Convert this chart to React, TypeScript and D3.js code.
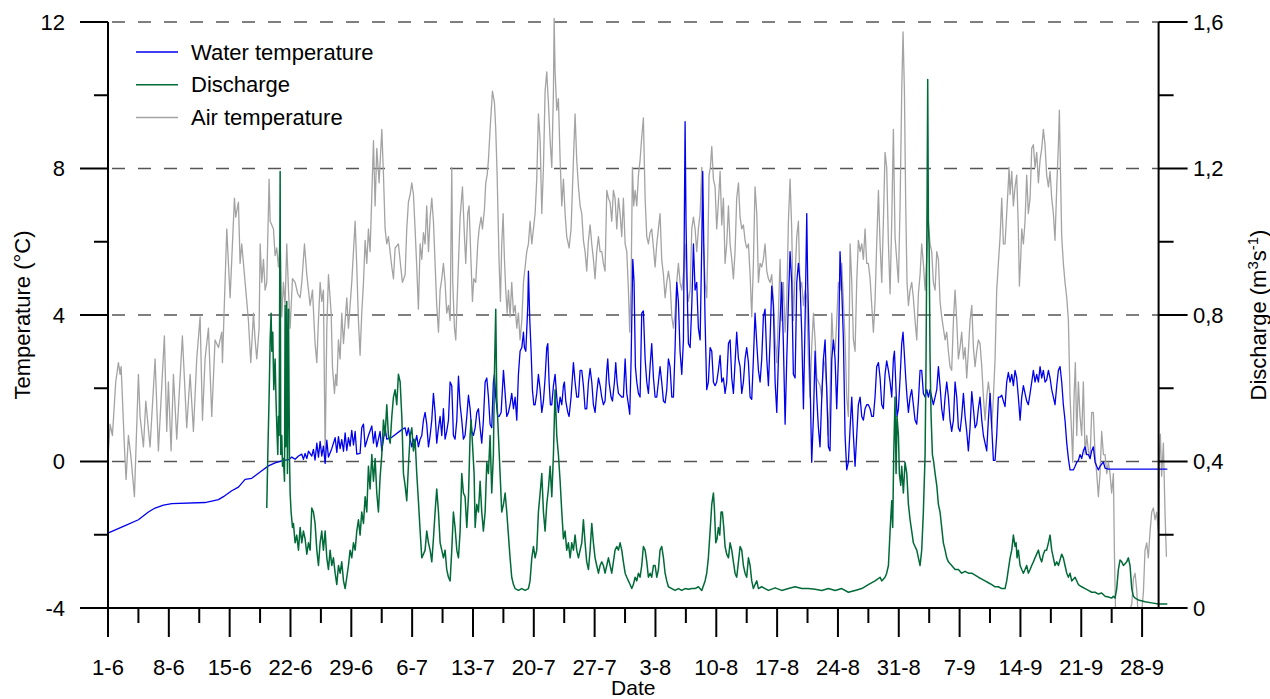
import React from 'react';
import * as d3 from 'd3';

// Date axis: day 0 = 1 June, weekly labels
const dayTickLabels = ['1-6', '8-6', '15-6', '22-6', '29-6', '6-7', '13-7', '20-7', '27-7', '3-8', '10-8', '17-8', '24-8', '31-8', '7-9', '14-9', '21-9', '28-9'];
const tempTicks = [-4, 0, 4, 8, 12];
const tempMinorTicks = [-2, 2, 6, 10];
const dischargeTicks = [0, 0.4, 0.8, 1.2, 1.6];
const dischargeMinorTicks = [0.2, 0.6, 1.0, 1.4];
const gridTemps = [0, 4, 8, 12];

// [day since 1-6, °C]
const airTemp: [number, number][] = [
  [0.05,0.29],[0.24,1.02],[0.51,0.71],[0.89,2.17],[1.2,2.7],[1.39,2.38],[1.51,2.59],[1.89,0.4],[2.08,-0.49],[2.35,0.71],[2.66,0.08],[3.04,-0.96],[3.5,2.38],[3.69,1.23],[4.08,0.4],[4.35,1.65],[4.84,0.4],[5.42,2.8],[5.8,0.29],[6.49,3.43],[6.76,0.82],[6.95,2.17],[7.26,0.29],[7.53,2.38],[7.91,0.61],[8.56,3.43],[9.06,0.92],[9.45,2.38],[9.83,0.82],[10.21,2.8],[10.6,3.95],[10.87,1.13],[11.17,2.8],[11.56,3.64],[11.94,1.23],[12.32,3.32],[12.71,3.11],[13.09,3.53],[13.17,2.7],[13.67,6.35],[14.05,4.47],[14.55,7.19],[14.7,6.67],[15.01,7.08],[15.2,5.41],[15.39,5.94],[15.78,4.89],[16.16,3.85],[16.43,2.7],[16.74,4.05],
  [16.93,3.32],[17.12,2.8],[17.39,3.64],[17.51,5.94],[17.7,4.89],[17.89,5.52],[18.08,4.68],[18.27,4.89],[18.54,7.71],[18.66,6.56],[18.85,6.46],[19.04,6.35],[19.23,5.62],[19.42,5.83],[19.61,5.31],[19.81,6.14],[20.0,3.95],[20.19,4.89],[20.38,4.26],[20.57,5.94],[20.77,4.68],[20.96,3.64],[21.23,4.99],[21.53,4.89],[21.84,4.58],[22.11,4.47],[22.3,4.89],[22.61,5.94],[22.88,5.1],[23.07,4.68],[23.26,4.26],[23.53,4.68],[23.83,3.22],[24.03,2.7],[24.22,3.85],[24.41,4.89],[24.6,4.37],[24.79,4.68],[24.99,0.19],[25.18,3.64],[25.37,5.1],[25.68,4.05],[25.83,2.59],[26.06,1.86],[26.21,2.38],[26.33,2.07],[26.52,3.32],[26.71,2.8],[26.9,4.05],[27.1,3.22],[27.29,3.85],[27.48,4.47],[27.67,3.64],[28.05,4.89],[28.44,6.56],[28.63,5.31],[28.82,3.85],[29.01,2.9],[29.2,4.05],[29.4,4.89],[29.59,6.04],[29.78,5.41],[29.97,6.35],[30.16,5.73],[30.55,8.76],[30.74,6.98],[30.93,8.55],[31.2,7.61],[31.51,9.07],[31.7,7.82],[31.89,6.35],[32.08,5.94],[32.27,6.14],[32.66,5.31],[32.85,4.99],[33.04,5.83],[33.42,5.94],[33.69,5.31],[33.88,4.89],
  [34.19,5.1],[34.38,6.35],[34.57,7.08],[34.77,7.29],[34.96,7.61],[35.15,7.29],[35.34,6.35],[35.53,5.31],[35.72,4.16],[35.92,5.94],[36.11,5.52],[36.3,6.25],[36.49,5.94],[36.68,6.98],[36.88,5.73],[37.07,6.67],[37.26,7.19],[37.45,6.56],[37.64,5.41],[37.83,4.26],[38.03,3.53],[38.22,4.68],[38.41,4.99],[38.6,5.41],[38.79,4.89],[38.98,4.05],[39.18,4.26],[39.37,3.85],[39.56,8.03],[39.67,4.89],[39.87,3.64],[40.02,3.32],[40.25,4.89],[40.52,6.67],[40.79,7.5],[41.02,6.14],[41.17,5.41],[41.4,6.77],[41.55,6.98],[41.78,5.41],[41.94,4.37],[42.09,4.99],[42.32,4.89],[42.55,5.94],[42.71,6.35],[42.94,6.67],[43.09,6.35],[43.32,6.88],[43.47,7.61],[43.63,7.82],[43.78,8.23],[43.97,9.07],[44.24,10.11],[44.47,9.8],[44.62,9.07],[44.78,7.82],[45.01,5.41],[45.16,4.37],[45.31,5.94],[45.47,6.77],[45.62,5.52],[45.77,4.68],[45.93,4.05],[46.08,4.68],[46.27,3.95],[46.46,4.89],[46.66,4.05],[46.85,4.26],[47.04,3.64],[47.23,4.05],[47.42,3.32],[47.62,3.85],[47.81,4.89],[48.0,5.31],[48.19,5.73],[48.38,5.94],[48.57,6.56],[48.77,5.94],[48.96,6.35],[49.15,6.77],[49.34,7.71],[49.53,9.49],[49.73,8.76],[49.92,6.77],[50.11,8.03],[50.3,10.11],[50.49,10.64],[50.68,9.8],[50.88,8.76],[51.07,8.03],[51.26,10.11],[51.34,12.1],
  [51.45,10.64],[51.64,9.59],[51.83,9.91],[52.03,8.23],[52.22,6.98],[52.41,7.71],[52.6,6.77],[52.79,6.14],[53.06,5.83],[53.29,6.35],[53.56,8.23],[53.75,9.49],[53.94,8.23],[54.14,7.5],[54.33,6.98],[54.52,6.77],[54.71,6.04],[54.9,5.73],[55.09,5.2],[55.29,6.04],[55.48,6.46],[55.67,5.94],[55.86,5.52],[56.05,4.99],[56.24,5.73],[56.44,6.14],[56.63,5.73],[56.82,5.73],[57.01,5.41],[57.2,5.2],[57.4,7.4],[57.59,7.19],[57.78,7.08],[57.97,6.56],[58.16,7.4],[58.35,7.19],[58.55,6.35],[58.74,7.19],[58.93,6.77],[59.12,6.14],[59.31,7.19],[59.51,5.94],[59.7,5.73],[59.89,4.68],[60.04,3.53],[60.2,4.89],[60.35,8.03],[60.5,6.98],[60.66,7.4],[60.85,6.98],[61.04,7.82],[61.23,8.23],[61.42,8.86],[61.61,9.38],[61.81,7.19],[62.0,6.14],[62.19,5.94],[62.38,6.25],[62.57,6.35],[62.77,5.83],[62.96,5.31],[63.15,5.94],[63.34,6.35],[63.53,6.77],[63.72,5.52],[63.92,5.1],[64.11,4.47],[64.3,4.89],[64.49,5.2],[64.68,4.89],[64.88,3.95],[65.07,3.64],[65.26,4.05],[65.45,4.89],[65.64,5.41],[65.83,4.89],[66.03,4.68],[66.22,5.1],[66.41,5.94],[66.6,4.89],[66.79,4.37],[66.99,4.68],[67.18,6.35],[67.37,6.67],[67.56,6.35],[67.75,5.73],[67.94,6.35],[68.14,6.77],[68.33,8.03],[68.52,5.94],[68.71,4.89],
  [68.9,4.47],[69.02,5.73],[69.17,7.82],[69.32,8.03],[69.48,8.6],[69.67,7.71],[69.86,7.5],[70.05,6.35],[70.24,7.08],[70.44,7.92],[70.63,6.46],[70.82,7.19],[71.01,5.41],[71.2,5.94],[71.4,6.98],[71.59,5.94],[71.78,5.52],[71.97,4.99],[72.16,5.73],[72.35,7.19],[72.55,7.61],[72.74,6.67],[72.93,6.35],[73.12,6.46],[73.31,6.04],[73.5,5.83],[73.7,5.94],[73.89,5.1],[74.08,3.95],[74.27,5.41],[74.46,7.5],[74.66,6.77],[74.85,4.89],[75.04,5.41],[75.23,5.31],[75.42,5.52],[75.61,5.94],[75.81,5.2],[76.0,4.99],[76.19,4.89],[76.38,5.1],[76.57,4.37],[76.77,3.32],[76.96,2.7],[77.15,4.05],[77.34,5.52],[77.53,3.85],[77.72,4.89],[77.92,3.53],[78.11,4.37],[78.3,6.56],[78.49,7.71],[78.68,6.35],[78.87,3.85],[79.07,5.1],[79.26,6.14],[79.45,6.56],[79.64,4.68],[79.83,4.89],[80.03,4.26],[80.22,4.68],[80.41,4.47],[80.6,2.8],[80.79,1.76],[80.98,3.11],[81.18,4.05],[81.37,3.32],[81.56,2.28],[81.75,2.17],[81.94,2.07],[82.14,1.76],[82.33,2.8],[82.52,2.59],[82.71,1.96],[82.9,0.71],[83.09,1.76],[83.29,4.05],[83.48,3.11],[83.67,3.01],[83.86,3.85],[84.05,4.89],[84.24,4.68],[84.44,5.41],[84.63,4.37],[84.82,3.32],[85.01,1.76],[85.2,1.23],[85.4,5.94],[85.59,4.89],[85.78,3.32],
  [85.97,3.01],[86.16,4.89],[86.35,6.04],[86.55,5.73],[86.74,5.94],[86.93,5.52],[87.12,6.35],[87.31,5.41],[87.5,5.41],[87.7,4.99],[87.89,4.26],[88.08,3.53],[88.27,4.37],[88.46,5.94],[88.66,7.4],[88.85,5.94],[89.04,4.89],[89.23,6.56],[89.42,8.44],[89.61,8.03],[89.81,5.94],[90.0,4.58],[90.19,6.56],[90.38,9.07],[90.57,6.14],[90.76,5.52],[90.96,4.89],[91.15,6.98],[91.34,10.11],[91.49,11.73],[91.65,10.11],[91.8,6.98],[91.95,4.89],[92.11,4.26],[92.3,4.68],[92.49,4.89],[92.68,4.47],[92.87,3.85],[93.07,3.32],[93.26,4.58],[93.45,5.1],[93.64,5.94],[93.83,5.41],[94.03,4.68],[94.22,5.52],[94.41,6.56],[94.6,5.94],[94.79,5.73],[94.98,4.89],[95.18,4.68],[95.37,5.73],[95.56,5.52],[95.75,4.37],[95.94,3.95],[96.13,3.64],[96.33,3.32],[96.52,3.53],[96.71,3.01],[96.9,2.59],[97.09,2.49],[97.29,3.85],[97.48,4.68],[97.67,3.85],[97.86,2.8],[98.05,3.11],[98.24,3.53],[98.44,2.8],[98.63,3.11],[98.82,2.28],[99.01,3.01],[99.2,3.85],[99.4,4.26],[99.59,3.11],[99.78,2.59],[99.97,3.01],[100.16,3.32],[100.35,3.22],[100.55,2.59],[100.74,1.76],[100.93,1.13],[101.12,1.76],[101.31,2.17],[101.51,1.76],[101.7,0.92],[101.89,1.76],[102.08,2.8],[102.27,4.68],[102.46,5.41],[102.66,6.14],[102.85,7.19],[103.04,5.94],
  [103.23,5.94],[103.42,6.77],[103.61,7.61],[103.69,8.03],[103.81,7.29],[104.0,7.92],[104.19,6.98],[104.38,7.5],[104.57,7.82],[104.76,6.35],[104.88,4.79],[105.03,5.52],[105.15,6.35],[105.34,5.94],[105.53,6.56],[105.72,7.82],[105.91,6.77],[106.11,7.19],[106.3,8.55],[106.49,8.65],[106.68,8.03],[106.87,8.44],[107.07,7.61],[107.26,8.23],[107.45,8.55],[107.64,9.07],[107.83,8.65],[108.02,7.82],[108.22,7.5],[108.41,7.92],[108.6,7.19],[108.79,6.77],[108.98,6.04],[109.18,7.5],[109.37,8.65],[109.48,9.59],[109.6,8.03],[109.75,6.14],[109.94,5.41],[110.13,4.89],[110.33,4.47],[110.52,3.85],[110.71,1.76],[110.9,0.71],[111.02,-0.02],[111.17,1.76],[111.32,2.7],[111.48,0.71],[111.67,2.17],[111.86,1.23],[112.05,0.71],[112.24,2.17],[112.44,0.19],[112.63,0.71],[112.82,0.29],[113.01,0.08],[113.2,1.34],[113.39,1.34],[113.59,0.19],[113.78,-0.33],[113.97,-0.96],[114.16,-0.33],[114.35,0.82],[114.55,0.19],[114.74,0.19],[114.93,-0.33],[115.12,-0.02],[115.31,-0.33],[115.5,-0.86],[115.7,-0.33],[115.81,-2.42],[115.96,-4.3],[116.27,-4.4],[117.04,-4.4],[117.81,-3.9],[118.0,-3.2],[118.19,-3.05],[118.38,-3.5],[118.57,-4.3],[118.96,-4.1],[119.15,-3.57],[119.34,-2.42],[119.53,-2.22],[119.72,-2.63],[119.92,-1.9],[120.11,-1.38],[120.3,-1.27],[120.49,-1.59],[120.68,-1.38],[120.87,-1.9],[121.0,0.2],[121.1,0.75],[121.25,-0.4],[121.45,0.5],[121.65,-1.5],[121.8,-2.6],
];

// [day since 1-6, °C]
const waterTemp: [number, number][] = [
  [0.05,-1.95],[1.97,-1.75],[3.5,-1.59],[4.65,-1.38],[5.42,-1.27],[6.38,-1.19],[7.34,-1.15],[11.17,-1.12],[12.71,-1.04],[13.28,-0.96],[14.24,-0.8],[15.01,-0.7],[15.78,-0.49],[16.54,-0.46],
  [16.93,-0.39],[17.7,-0.25],[18.46,-0.12],[19.23,-0.04],[20.0,0.02],[20.77,0.05],[21.15,0.12],[21.53,0.06],[21.92,0.15],[22.3,0.2],[22.49,0.06],[22.68,0.22],[22.88,0.08],[23.07,0.28],[23.45,0.15],[23.64,0.33],[23.83,0.04],[24.03,0.5],[24.22,0.12],[24.41,0.55],[24.6,0.15],[24.79,0.42],[24.99,-0.05],[25.18,0.58],[25.37,0.12],[25.75,0.35],[26.14,0.65],[26.33,0.25],[26.52,0.68],[26.71,0.35],[26.9,0.6],[27.1,0.28],[27.29,0.78],[27.48,0.3],[27.67,0.65],[27.86,0.42],[28.05,0.85],[28.25,0.45],[28.44,0.82],[28.63,0.2],[29.01,0.22],[29.2,0.92],[29.4,1.02],[29.59,0.4],[29.97,0.71],[30.36,0.97],[30.55,0.5],[30.74,0.82],[30.93,0.4],[31.31,0.82],[31.51,0.29],[31.89,0.92],[32.08,0.61],[32.66,0.66],[33.81,0.87],
  [34.19,0.92],[34.38,0.71],[34.57,0.92],[34.77,0.61],[34.96,0.4],[35.15,0.61],[35.34,0.5],[35.53,0.71],[35.72,0.4],[35.92,0.61],[36.11,0.71],[36.3,1.13],[36.49,1.34],[36.68,1.02],[36.88,0.4],[37.07,0.71],[37.26,1.13],[37.45,1.86],[37.64,1.34],[37.83,0.5],[38.03,0.92],[38.22,1.23],[38.41,0.71],[38.6,1.44],[38.79,0.61],[38.98,0.82],[39.18,1.13],[39.37,2.17],[39.56,2.07],[39.75,0.71],[39.94,0.61],[40.14,1.13],[40.33,2.33],[40.52,1.55],[40.71,1.13],[40.9,0.61],[41.09,0.71],[41.29,1.23],[41.48,1.81],[41.67,1.44],[41.86,0.82],[42.05,0.71],[42.25,0.92],[42.44,1.34],[42.63,1.44],[42.82,0.92],[43.01,0.5],[43.2,1.13],[43.4,2.17],[43.59,2.28],[43.78,1.76],[43.97,1.02],[44.16,0.92],[44.35,2.17],[44.47,2.38],[44.62,1.76],[44.85,1.23],[45.01,1.23],[45.24,1.34],[45.51,2.49],[45.7,1.86],[45.89,1.23],[46.08,1.34],[46.27,1.55],[46.46,1.86],[46.66,1.44],[46.85,1.76],[47.04,1.13],[47.23,2.38],[47.42,3.01],[47.62,3.11],[47.81,3.53],[47.92,3.11],[48.08,3.01],[48.31,4.26],[48.38,5.2],[48.54,3.85],[48.69,3.01],[48.84,1.96],[49.0,1.55],[49.15,1.55],[49.34,1.86],[49.53,2.38],[49.73,1.96],[49.92,1.34],[50.11,1.65],[50.3,2.28],[50.49,3.11],[50.61,3.22],[50.76,2.17],[50.91,1.55],[51.07,1.55],[51.26,2.07],[51.45,2.38],
  [51.64,1.76],[51.83,1.34],[52.03,1.76],[52.22,1.55],[52.41,2.07],[52.52,2.17],[52.68,1.65],[52.91,1.34],[53.06,1.23],[53.29,1.76],[53.56,2.7],[53.75,2.17],[53.94,1.76],[54.14,1.76],[54.33,2.49],[54.52,2.49],[54.71,2.07],[54.9,1.44],[55.09,1.44],[55.29,2.17],[55.48,2.54],[55.67,2.17],[55.86,1.55],[56.05,1.34],[56.24,1.86],[56.44,2.28],[56.63,2.07],[56.82,1.76],[57.01,1.55],[57.2,1.65],[57.4,2.49],[57.51,2.8],[57.66,2.17],[57.89,1.76],[58.05,1.65],[58.28,2.17],[58.43,2.7],[58.58,2.17],[58.74,1.86],[59.12,1.76],[59.31,1.76],[59.51,2.8],[59.7,1.86],[59.89,1.55],[60.04,1.29],[60.2,2.8],[60.39,5.52],[60.54,4.89],[60.69,2.59],[60.85,2.17],[61.04,1.86],[61.23,1.76],[61.42,4.05],[61.61,4.11],[61.81,2.8],[62.0,2.17],[62.19,1.86],[62.38,2.59],[62.57,3.22],[62.77,2.28],[62.96,1.76],[63.15,1.76],[63.34,2.17],[63.53,2.59],[63.72,2.17],[63.92,1.65],[64.11,1.6],[64.3,1.96],[64.49,2.8],[64.68,2.59],[64.88,1.76],[65.07,1.76],[65.26,3.11],[65.45,4.89],[65.64,4.37],[65.83,3.01],[66.03,2.38],[66.22,3.32],[66.41,9.28],[66.52,6.46],[66.68,4.37],[66.79,3.22],[66.99,3.11],[67.18,4.26],[67.37,5.94],[67.56,4.68],[67.75,4.89],[67.94,3.64],[68.14,3.32],[68.33,5.94],[68.44,7.92],[68.56,5.94],[68.71,3.85],
  [68.9,1.96],[69.09,2.17],[69.29,3.11],[69.48,3.01],[69.67,2.17],[69.86,2.07],[70.05,2.17],[70.24,2.49],[70.44,2.9],[70.63,2.17],[70.82,2.28],[71.01,1.86],[71.2,2.17],[71.4,3.22],[71.59,3.32],[71.78,2.28],[71.97,1.86],[72.16,2.7],[72.35,3.53],[72.55,2.8],[72.74,2.59],[72.93,1.86],[73.12,2.17],[73.31,2.8],[73.5,3.11],[73.7,2.7],[73.89,1.76],[74.08,1.7],[74.27,2.8],[74.46,4.05],[74.66,3.22],[74.85,2.49],[75.04,2.17],[75.23,2.8],[75.42,3.95],[75.61,4.16],[75.81,2.8],[76.0,2.07],[76.19,3.32],[76.38,4.79],[76.57,4.26],[76.77,2.17],[76.96,1.34],[77.15,2.8],[77.34,3.85],[77.53,4.89],[77.72,3.22],[77.92,1.02],[78.11,2.8],[78.3,4.37],[78.49,5.73],[78.68,4.89],[78.87,2.38],[79.07,2.28],[79.26,4.89],[79.45,5.41],[79.64,4.89],[79.83,3.53],[80.03,1.44],[80.22,3.85],[80.41,6.77],[80.52,4.89],[80.68,3.32],[80.83,1.76],[80.98,-0.02],[81.18,1.23],[81.37,3.01],[81.56,1.76],[81.75,0.92],[81.94,0.4],[82.14,1.76],[82.33,2.8],[82.52,3.32],[82.71,1.96],[82.9,0.4],[83.09,0.29],[83.29,2.8],[83.48,3.32],[83.67,2.8],[83.86,1.44],[84.05,2.8],[84.24,5.73],[84.44,4.68],[84.63,3.32],[84.82,0.71],[85.01,-0.23],[85.2,-0.02],[85.4,0.92],[85.59,1.76],[85.78,0.71],[85.97,-0.13],
  [86.16,0.71],[86.35,1.55],[86.55,1.76],[86.74,1.23],[86.93,1.13],[87.12,1.44],[87.31,1.55],[87.5,1.55],[87.7,1.44],[87.89,1.23],[88.08,1.23],[88.27,1.76],[88.46,2.59],[88.66,2.7],[88.85,2.28],[89.04,1.55],[89.23,1.44],[89.42,2.38],[89.61,2.75],[89.81,2.49],[90.0,2.17],[90.19,1.76],[90.38,2.8],[90.5,3.01],[90.65,2.17],[90.8,1.23],[90.96,1.44],[91.15,2.28],[91.34,3.22],[91.49,3.53],[91.65,2.9],[91.8,2.28],[91.95,1.76],[92.11,1.34],[92.3,1.76],[92.49,1.96],[92.68,1.55],[92.87,1.13],[93.07,1.02],[93.26,1.65],[93.45,2.49],[93.64,2.49],[93.83,1.86],[94.03,1.76],[94.22,1.96],[94.41,1.76],[94.6,1.96],[94.79,1.76],[94.98,1.55],[95.18,1.76],[95.37,1.96],[95.56,2.59],[95.75,2.07],[95.94,1.44],[96.13,1.13],[96.33,1.76],[96.52,2.17],[96.71,1.76],[96.9,1.13],[97.09,0.82],[97.29,1.13],[97.48,2.17],[97.67,1.76],[97.86,0.92],[98.05,0.82],[98.24,1.23],[98.44,1.86],[98.63,1.23],[98.82,0.82],[99.01,0.29],[99.2,0.92],[99.4,1.91],[99.59,1.44],[99.78,0.92],[99.97,1.02],[100.16,1.44],[100.35,1.76],[100.55,1.13],[100.74,0.71],[100.93,0.5],[101.12,0.29],[101.31,1.13],[101.51,1.86],[101.7,0.92],[101.89,0.03],[102.08,0.03],[102.27,0.71],[102.46,1.76],[102.66,1.76],[102.85,1.81],[103.04,1.65],
  [103.23,1.5],[103.42,2.17],[103.61,2.43],[103.81,2.17],[104.0,2.38],[104.19,2.07],[104.38,2.49],[104.57,2.28],[104.76,1.76],[104.96,1.13],[105.15,1.76],[105.34,2.07],[105.53,1.86],[105.72,1.65],[105.91,1.55],[106.11,1.86],[106.3,2.17],[106.49,2.49],[106.68,2.17],[106.87,2.38],[107.07,2.17],[107.26,2.59],[107.45,2.28],[107.64,2.49],[107.83,2.17],[108.02,2.23],[108.22,2.49],[108.41,2.28],[108.6,1.96],[108.79,1.76],[108.98,1.55],[109.18,2.07],[109.37,2.49],[109.56,2.59],[109.75,2.17],[109.94,1.55],[110.13,1.13],[110.33,0.5],[110.52,0.08],[110.71,-0.23],[111.09,-0.23],[111.29,-0.13],[111.48,-0.02],[111.67,0.03],[111.86,0.19],[112.05,0.08],[112.24,0.29],[112.44,0.4],[112.63,0.19],[112.82,0.19],[113.01,0.08],[113.2,0.29],[113.39,0.4],[113.59,-0.02],[113.78,-0.13],[113.97,-0.23],[114.16,-0.13],[114.35,-0.07],[114.55,-0.02],[114.74,-0.18],[115.12,-0.21],[121.9,-0.21],
];

// [day since 1-6, m3/s]
const discharge: [number, number][] = [
  [18.27,0.273],[18.39,0.419],[18.54,0.576],[18.66,0.732],[18.77,0.805],[18.85,0.701],[18.96,0.753],[19.08,0.596],[19.23,0.68],[19.35,0.555],[19.46,0.471],[19.54,0.419],[19.61,0.523],[19.69,0.471],[19.81,1.192],[19.88,0.419],[20.0,0.471],[20.08,0.387],[20.19,0.408],[20.31,0.346],[20.38,0.826],[20.46,0.44],[20.57,0.837],[20.65,0.367],[20.77,0.816],[20.88,0.419],[20.96,0.314],[21.07,0.262],[21.23,0.22],[21.34,0.231],[21.53,0.178],[21.72,0.199],[21.92,0.158],[22.11,0.22],[22.3,0.178],[22.49,0.21],[22.68,0.189],[22.88,0.147],[23.07,0.178],[23.26,0.158],[23.45,0.273],[23.64,0.262],[23.83,0.231],[24.03,0.158],[24.22,0.116],[24.41,0.178],[24.6,0.21],[24.79,0.158],[24.99,0.21],[25.18,0.137],[25.37,0.105],[25.56,0.158],[25.75,0.116],[25.94,0.137],[26.14,0.095],[26.33,0.064],[26.52,0.116],[26.71,0.095],[26.9,0.126],[27.1,0.074],[27.29,0.053],[27.48,0.084],[27.67,0.116],[27.86,0.158],[28.05,0.137],[28.25,0.178],[28.44,0.158],[28.63,0.21],[28.82,0.241],[29.01,0.199],[29.2,0.262],[29.4,0.231],[29.59,0.304],[29.78,0.262],[29.97,0.387],[30.16,0.325],[30.36,0.419],[30.55,0.346],[30.74,0.408],[30.93,0.314],[31.12,0.262],[31.31,0.356],[31.51,0.419],[31.7,0.513],[31.89,0.471],[32.08,0.555],[32.27,0.471],[32.47,0.45],[32.66,0.523],[32.85,0.576],[33.04,0.596],[33.23,0.555],[33.42,0.638],[33.62,0.617],[33.81,0.523],[34.0,0.367],
  [34.19,0.335],[34.38,0.293],[34.57,0.387],[34.77,0.471],[34.96,0.492],[35.15,0.429],[35.34,0.461],[35.53,0.367],[35.72,0.293],[35.92,0.21],[36.11,0.137],[36.3,0.147],[36.49,0.158],[36.68,0.21],[36.88,0.178],[37.07,0.158],[37.26,0.126],[37.45,0.189],[37.64,0.262],[37.83,0.325],[38.03,0.262],[38.22,0.178],[38.41,0.158],[38.6,0.137],[38.79,0.158],[38.98,0.105],[39.18,0.084],[39.37,0.074],[39.56,0.158],[39.75,0.262],[39.94,0.22],[40.14,0.158],[40.33,0.137],[40.52,0.21],[40.71,0.367],[40.9,0.314],[41.09,0.304],[41.29,0.22],[41.48,0.304],[41.67,0.471],[41.79,0.513],[41.94,0.45],[42.13,0.367],[42.25,0.22],[42.44,0.283],[42.63,0.262],[42.82,0.346],[43.01,0.262],[43.2,0.21],[43.4,0.262],[43.59,0.398],[43.78,0.367],[43.97,0.471],[44.16,0.314],[44.35,0.419],[44.47,0.638],[44.62,0.816],[44.74,0.576],[44.93,0.471],[45.12,0.367],[45.31,0.262],[45.51,0.283],[45.7,0.314],[45.89,0.262],[46.08,0.199],[46.27,0.137],[46.46,0.084],[46.66,0.064],[46.85,0.053],[47.23,0.048],[47.62,0.053],[48.0,0.048],[48.38,0.053],[48.57,0.074],[48.77,0.137],[48.96,0.168],[49.15,0.137],[49.34,0.158],[49.53,0.262],[49.73,0.314],[49.92,0.367],[50.11,0.262],[50.3,0.21],[50.49,0.283],[50.68,0.325],[50.88,0.387],[51.07,0.304],[51.26,0.419],
  [51.45,0.596],[51.64,0.471],[51.83,0.419],[52.03,0.346],[52.22,0.262],[52.41,0.189],[52.6,0.21],[52.79,0.158],[52.98,0.178],[53.18,0.137],[53.37,0.178],[53.56,0.158],[53.75,0.199],[53.94,0.158],[54.14,0.137],[54.33,0.158],[54.52,0.178],[54.71,0.241],[54.9,0.178],[55.09,0.126],[55.29,0.105],[55.48,0.158],[55.67,0.231],[55.86,0.178],[56.05,0.137],[56.24,0.116],[56.44,0.095],[56.63,0.116],[56.82,0.126],[57.01,0.116],[57.2,0.095],[57.4,0.116],[57.59,0.137],[57.78,0.116],[57.97,0.095],[58.16,0.126],[58.35,0.158],[58.55,0.168],[58.74,0.158],[58.93,0.178],[59.12,0.158],[59.31,0.126],[59.51,0.095],[59.7,0.084],[59.89,0.074],[60.08,0.064],[60.27,0.053],[60.46,0.064],[60.66,0.084],[60.85,0.074],[61.04,0.095],[61.23,0.084],[61.42,0.116],[61.61,0.168],[61.81,0.158],[62.0,0.126],[62.19,0.084],[62.38,0.095],[62.57,0.084],[62.77,0.116],[62.96,0.116],[63.15,0.084],[63.34,0.105],[63.53,0.158],[63.72,0.168],[63.92,0.137],[64.11,0.095],[64.3,0.074],[64.49,0.058],[64.88,0.053],[65.26,0.048],[65.64,0.053],[66.03,0.048],[66.41,0.053],[66.79,0.051],[67.18,0.053],[67.56,0.053],[67.94,0.058],[68.33,0.048],[68.71,0.074],
  [68.9,0.095],[69.09,0.137],[69.29,0.21],[69.48,0.283],[69.67,0.314],[69.78,0.273],[69.94,0.178],[70.09,0.189],[70.24,0.22],[70.4,0.199],[70.55,0.262],[70.7,0.262],[70.86,0.22],[71.01,0.168],[71.2,0.147],[71.4,0.137],[71.59,0.178],[71.78,0.158],[71.97,0.126],[72.16,0.095],[72.35,0.084],[72.55,0.126],[72.74,0.168],[72.93,0.158],[73.12,0.116],[73.31,0.095],[73.5,0.084],[73.7,0.137],[73.89,0.116],[74.08,0.074],[74.27,0.053],[74.46,0.064],[74.66,0.074],[74.85,0.053],[75.23,0.058],[75.61,0.053],[76.0,0.048],[76.77,0.055],[77.53,0.048],[78.3,0.053],[79.07,0.058],[79.83,0.053],[80.6,0.053],[81.37,0.051],[82.14,0.048],[82.9,0.053],[83.67,0.048],[84.44,0.053],[85.2,0.043],[85.97,0.048],
  [86.74,0.053],[87.5,0.064],[88.27,0.074],[88.85,0.084],[89.04,0.074],[89.42,0.084],[89.61,0.095],[89.81,0.116],[90.0,0.21],[90.19,0.293],[90.3,0.22],[90.42,0.419],[90.57,0.576],[90.69,0.367],[90.8,0.523],[90.96,0.471],[91.07,0.367],[91.23,0.335],[91.34,0.387],[91.53,0.314],[91.72,0.398],[91.92,0.367],[92.11,0.283],[92.3,0.241],[92.49,0.21],[92.68,0.178],[92.87,0.168],[93.07,0.158],[93.26,0.137],[93.45,0.116],[93.64,0.158],[93.83,0.262],[94.03,0.419],[94.14,0.68],[94.26,1.119],[94.33,1.443],[94.41,1.046],[94.49,0.994],[94.6,0.68],[94.72,0.523],[94.87,0.419],[95.02,0.398],[95.18,0.367],[95.37,0.335],[95.56,0.283],[95.75,0.262],[95.94,0.22],[96.13,0.178],[96.33,0.158],[96.52,0.137],[96.71,0.126],[97.09,0.116],[97.48,0.105],[97.86,0.105],[98.24,0.095],[98.63,0.1],[99.01,0.095],[99.4,0.095],[99.78,0.09],[100.16,0.084],[100.55,0.079],[100.93,0.074],[101.31,0.069],[101.7,0.064],[102.08,0.058],[102.46,0.058],[102.85,0.053],
  [103.23,0.053],[103.42,0.074],[103.61,0.105],[103.81,0.137],[104.0,0.158],[104.19,0.199],[104.38,0.168],[104.5,0.178],[104.61,0.137],[104.76,0.158],[104.96,0.116],[105.15,0.105],[105.34,0.095],[105.53,0.105],[105.72,0.116],[105.91,0.095],[106.11,0.105],[106.3,0.116],[106.49,0.126],[106.68,0.137],[106.87,0.147],[107.07,0.158],[107.26,0.137],[107.45,0.126],[107.64,0.147],[107.83,0.158],[108.02,0.158],[108.22,0.178],[108.41,0.199],[108.6,0.158],[108.79,0.137],[108.98,0.116],[109.18,0.126],[109.37,0.116],[109.75,0.147],[109.94,0.137],[110.13,0.116],[110.33,0.095],[110.52,0.084],[110.71,0.095],[110.9,0.074],[111.29,0.084],[111.67,0.064],[112.05,0.058],[112.44,0.053],[112.82,0.048],[113.2,0.043],[113.59,0.043],[113.97,0.038],[114.35,0.041],[114.74,0.032],[115.12,0.03],[115.5,0.027],[115.7,0.032],[115.89,0.027],[116.08,0.053],[116.27,0.105],[116.46,0.131],[116.66,0.126],[116.85,0.116],[117.04,0.121],[117.23,0.126],[117.42,0.137],[117.61,0.116],[117.81,0.053],[118.0,0.032],[118.19,0.027],[118.57,0.022],[119.34,0.017],[120.11,0.014],[120.87,0.011],[121.9,0.011],
];

const COLORS = { water: '#0000ee', discharge: '#006a38', air: '#a3a3a3', grid: '#555555', axis: '#000000' };
const FONT = '"Liberation Sans", Arial, Helvetica, sans-serif';

export default function App() {
  const W = 1270, H = 699;
  const x = d3.scaleLinear().domain([0, 120.9]).range([108, 1158.6]);
  const yT = d3.scaleLinear().domain([-4, 12]).range([608, 22]);
  const yQ = d3.scaleLinear().domain([0, 1.6]).range([608, 22]);

  const [x0, x1] = x.range();
  const yBottom = yT(-4), yTop = yT(12);

  const tLine = d3.line<[number, number]>().x(d => x(d[0])).y(d => yT(d[1]));
  const qLine = d3.line<[number, number]>().x(d => x(d[0])).y(d => yQ(d[1]));

  const majorDays = dayTickLabels.map((_, i) => i * 7);
  const minorDays = dayTickLabels.slice(0, -1).map((_, i) => i * 7 + 3.5);

  const fmtQ = (v: number) => (v === 0 ? '0' : v.toFixed(1).replace('.', ','));

  const legend = [
    { label: 'Water temperature', color: COLORS.water },
    { label: 'Discharge', color: COLORS.discharge },
    { label: 'Air temperature', color: COLORS.air },
  ];

  return (
    <svg width={W} height={H} style={{ position: 'absolute', left: 0, top: 0, display: 'block', background: '#fff' }} fontFamily={FONT}>
      <defs>
        <clipPath id="plotClip">
          <rect x={0} y={0} width={W} height={yBottom} />
        </clipPath>
      </defs>
      <rect x={0} y={0} width={W} height={H} fill="#ffffff" />

      {/* dashed gridlines */}
      {gridTemps.map(t => (
        <line key={'g' + t} x1={x0} x2={x1} y1={yT(t)} y2={yT(t)} stroke={COLORS.grid} strokeWidth={1.3} strokeDasharray="13 13" strokeDashoffset={-4} />
      ))}

      {/* data */}
      <path d={tLine(airTemp) || ''} fill="none" stroke={COLORS.air} strokeWidth={1.3} strokeLinejoin="round" clipPath="url(#plotClip)" />
      <path d={tLine(waterTemp) || ''} fill="none" stroke={COLORS.water} strokeWidth={1.3} strokeLinejoin="round" />
      <path d={qLine(discharge) || ''} fill="none" stroke={COLORS.discharge} strokeWidth={1.5} strokeLinejoin="round" />

      {/* axes lines */}
      <line x1={x0} x2={x0} y1={yTop} y2={yBottom} stroke={COLORS.axis} strokeWidth={2} />
      <line x1={x1} x2={x1} y1={yTop} y2={yBottom} stroke={COLORS.axis} strokeWidth={2} />
      <line x1={x0 - 1} x2={x1 + 1} y1={yBottom} y2={yBottom} stroke={COLORS.axis} strokeWidth={2} />

      {/* bottom axis */}
      {majorDays.map((d, i) => (
        <g key={'xd' + i}>
          <line x1={x(d)} x2={x(d)} y1={yBottom} y2={yBottom + 29} stroke={COLORS.axis} strokeWidth={2} />
          <text x={x(d)} y={675} textAnchor="middle" fontSize={22} fill="#000">{dayTickLabels[i]}</text>
        </g>
      ))}
      {minorDays.map((d, i) => (
        <line key={'xm' + i} x1={x(d)} x2={x(d)} y1={yBottom} y2={yBottom + 15} stroke={COLORS.axis} strokeWidth={2} />
      ))}
      <text x={(x0 + x1) / 2} y={695} textAnchor="middle" fontSize={21} fill="#000">Date</text>

      {/* left axis */}
      {tempTicks.map(t => (
        <g key={'lt' + t}>
          <line x1={x0 - 28} x2={x0} y1={yT(t)} y2={yT(t)} stroke={COLORS.axis} strokeWidth={2} />
          <text x={65} y={yT(t)} dy="0.35em" textAnchor="end" fontSize={22} fill="#000">{t}</text>
        </g>
      ))}
      {tempMinorTicks.map(t => (
        <line key={'lm' + t} x1={x0 - 14} x2={x0} y1={yT(t)} y2={yT(t)} stroke={COLORS.axis} strokeWidth={2} />
      ))}
      <text transform={`translate(30,${(yTop + yBottom) / 2}) rotate(-90)`} textAnchor="middle" fontSize={22} fill="#000">Temperature (°C)</text>

      {/* right axis */}
      {dischargeTicks.map(q => (
        <g key={'rq' + q}>
          <line x1={x1} x2={x1 + 29} y1={yQ(q)} y2={yQ(q)} stroke={COLORS.axis} strokeWidth={2} />
          <text x={1193} y={yQ(q)} dy="0.35em" textAnchor="start" fontSize={22} fill="#000">{fmtQ(q)}</text>
        </g>
      ))}
      {dischargeMinorTicks.map(q => (
        <line key={'rm' + q} x1={x1} x2={x1 + 15} y1={yQ(q)} y2={yQ(q)} stroke={COLORS.axis} strokeWidth={2} />
      ))}
      <text transform={`translate(1266,${(yTop + yBottom) / 2}) rotate(-90)`} textAnchor="middle" fontSize={22} fill="#000">
        <tspan>Discharge (m</tspan>
        <tspan fontSize={15} dy={-8}>3</tspan>
        <tspan dy={8}>s</tspan>
        <tspan fontSize={15} dy={-8}>-1</tspan>
        <tspan dy={8}>)</tspan>
      </text>

      {/* legend */}
      {legend.map((l, i) => {
        const ly = 52 + i * 32.7;
        return (
          <g key={'lg' + i}>
            <line x1={136} x2={178} y1={ly} y2={ly} stroke={l.color} strokeWidth={1.5} />
            <text x={191} y={ly} dy="0.35em" fontSize={22} fill="#000">{l.label}</text>
          </g>
        );
      })}
    </svg>
  );
}
